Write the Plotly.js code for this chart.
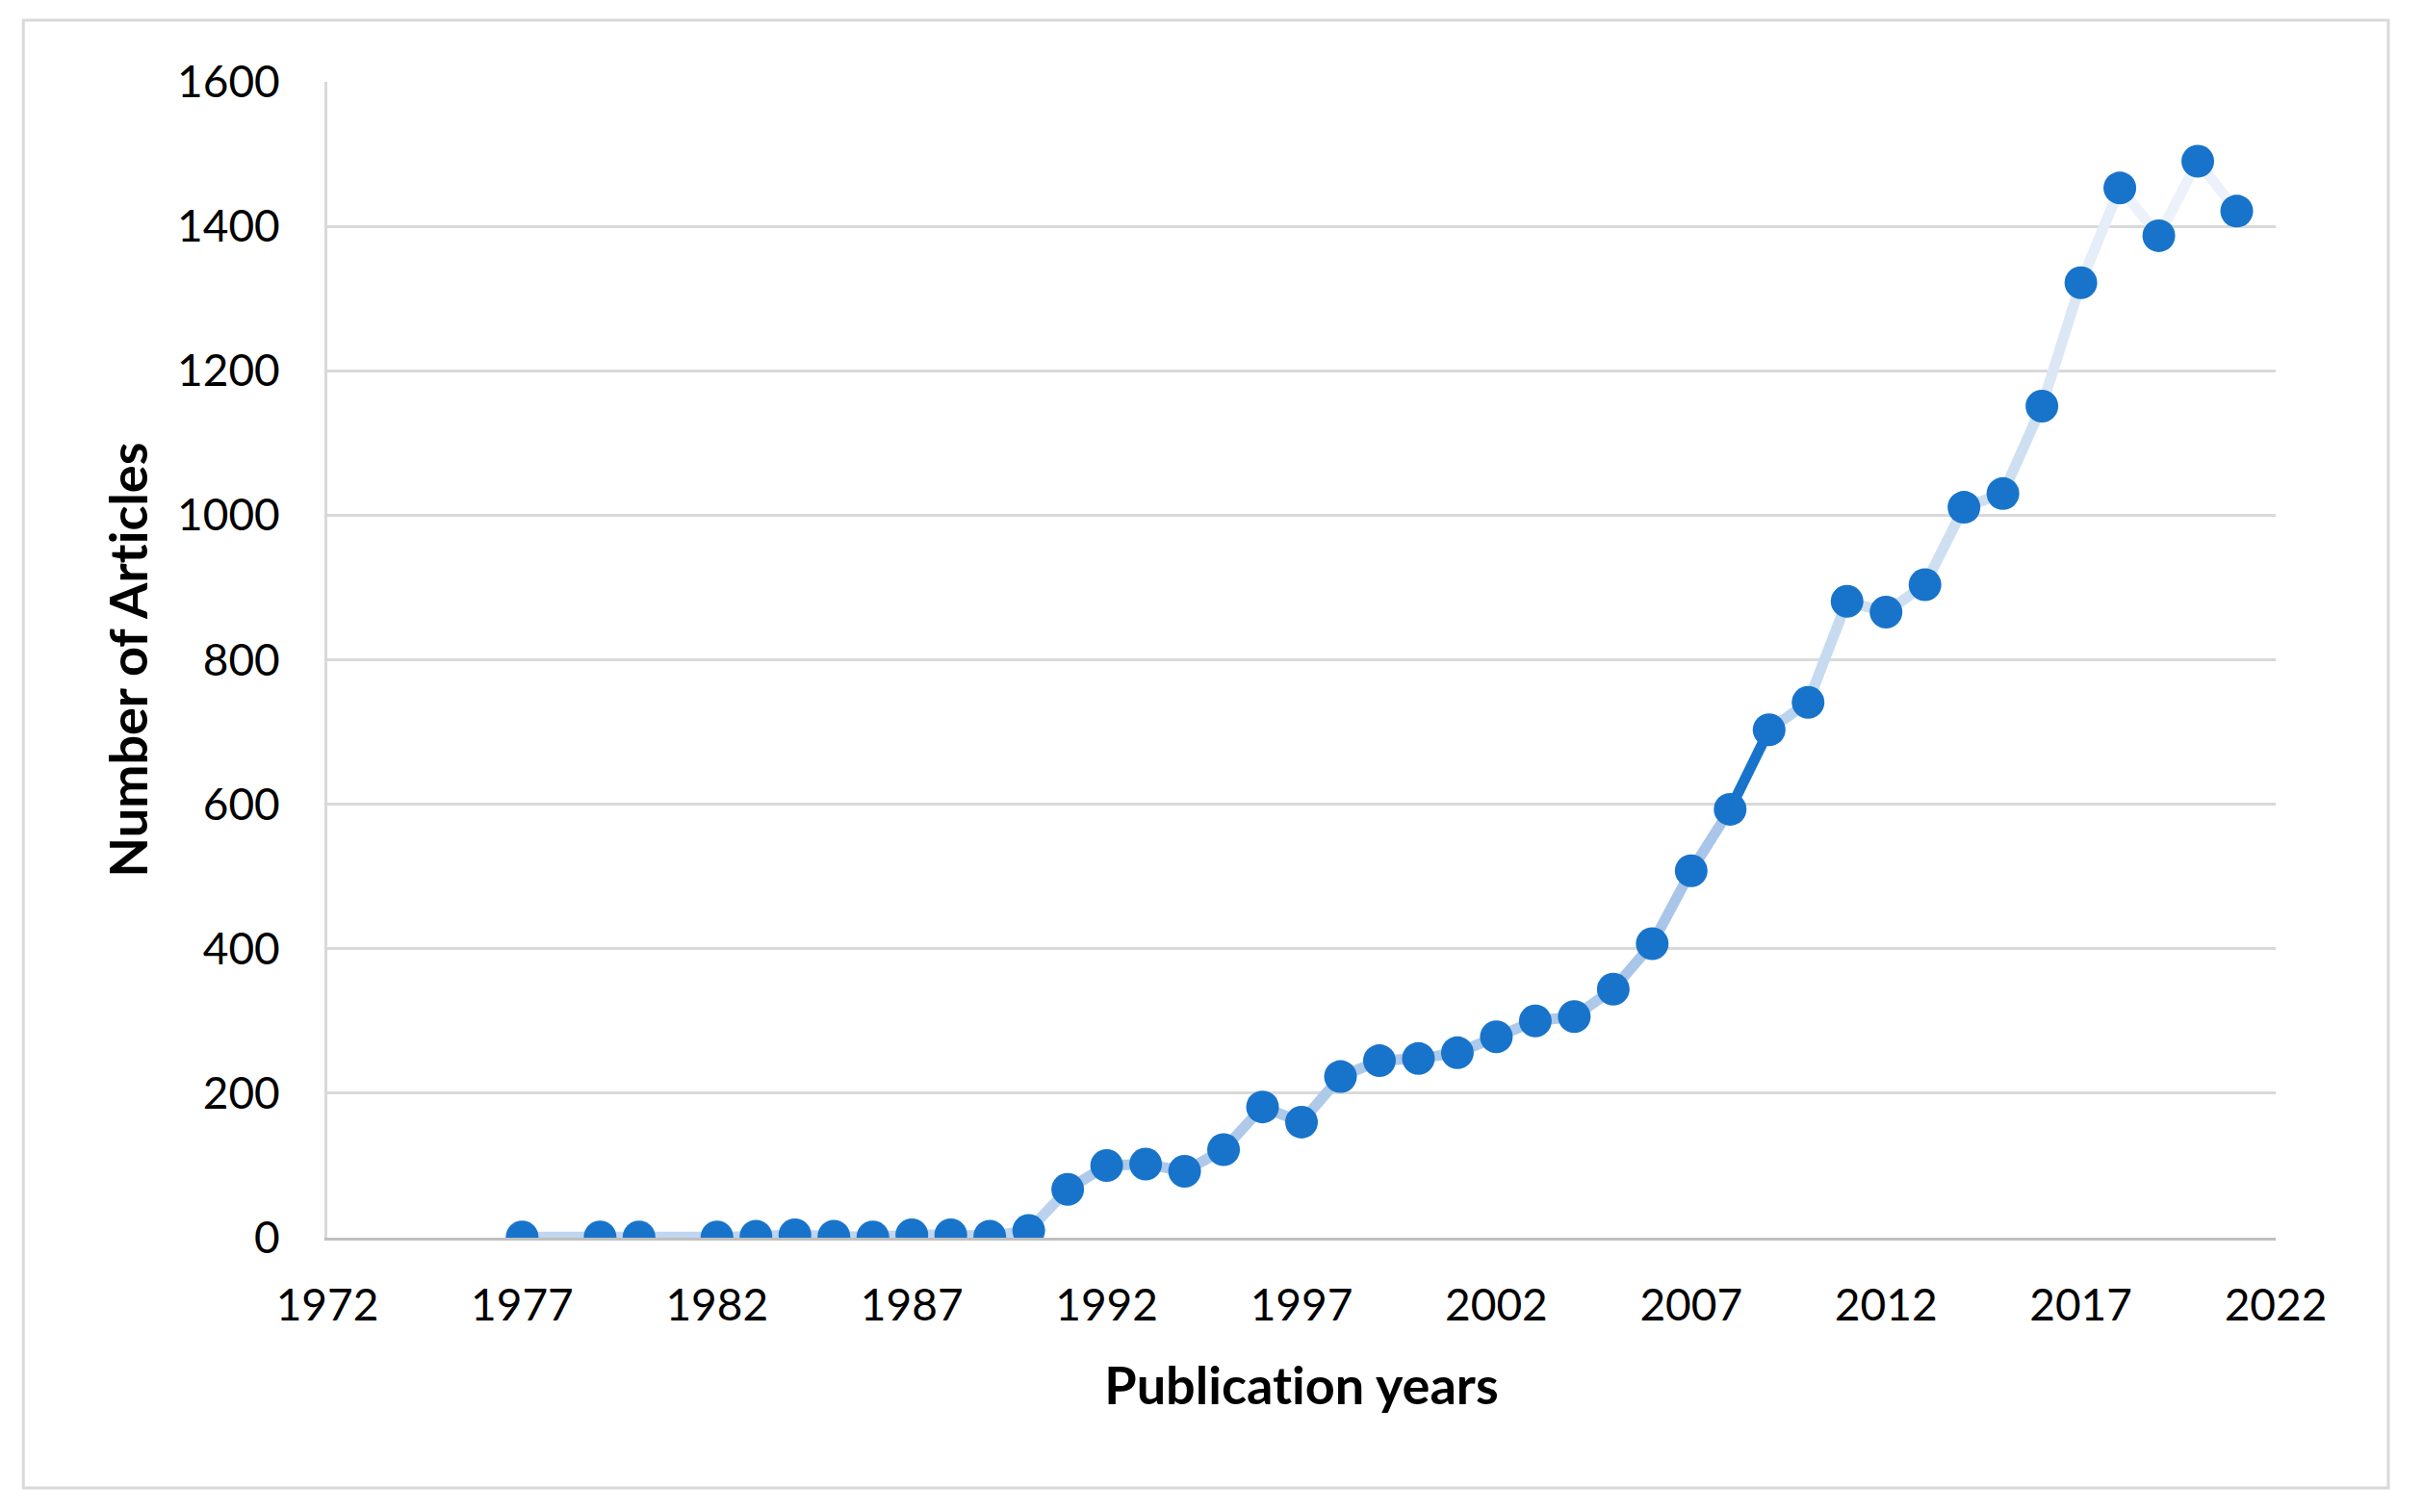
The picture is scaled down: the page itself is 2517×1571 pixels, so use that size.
<!DOCTYPE html>
<html>
<head>
<meta charset="utf-8">
<script src="https://cdn.plot.ly/plotly-3.0.1.min.js"></script>
<style>
  html, body { margin: 0; padding: 0; background: #ffffff; }
  #chart { width: 2517px; height: 1571px; }
  svg text { font-variant-ligatures: none; font-feature-settings: "liga" 0; }
</style>
</head>
<body>
<div id="chart"></div>
<script>
// ---- data ----
const years = [1977, 1979, 1980, 1982, 1983, 1984, 1985, 1986, 1987, 1988, 1989, 1990,
  1991, 1992, 1993, 1994, 1995, 1996, 1997, 1998, 1999, 2000, 2001, 2002, 2003, 2004,
  2005, 2006, 2007, 2008, 2009, 2010, 2011, 2012, 2013, 2014, 2015, 2016, 2017, 2018,
  2019, 2020, 2021];
const articles = [1, 1, 1, 1, 2, 4, 2, 1, 4, 4, 2, 10,
  67, 100, 102, 92, 122, 181, 160, 223, 245, 248, 256, 278, 300, 306,
  344, 407, 508, 593, 703, 741, 881, 866, 904, 1011, 1030, 1151, 1322, 1453,
  1387, 1490, 1421];
const xTickVals = [1972, 1977, 1982, 1987, 1992, 1997, 2002, 2007, 2012, 2017, 2022];
const yTickVals = [0, 200, 400, 600, 800, 1000, 1200, 1400, 1600];

// ---- style: colour of each connecting segment ----
const segColors = [];
for (let k = 0; k < years.length - 1; k++) {
  let c;
  if (k <= 10) c = '#C0D5EF';
  else if (k === 11) c = '#BBD2EE';
  else if (k <= 25) c = '#AEC9EA';
  else if (k <= 28) c = '#A9C5E9';
  else if (k === 29) c = '#1874CB';
  else if (k === 30) c = '#BCD3EE';
  else if (k === 31) c = '#C6DAF0';
  else if (k <= 36) c = '#CFDFF2';
  else if (k === 37) c = '#DCE7F5';
  else if (k === 38) c = '#E5EDF8';
  else c = '#EDF2FA';
  segColors.push(c);
}

const traces = [];
for (let k = 0; k < years.length - 1; k++) {
  traces.push({
    type: 'scatter', mode: 'lines',
    x: [years[k], years[k + 1]], y: [articles[k], articles[k + 1]],
    line: { color: segColors[k], width: 11 },
    hoverinfo: 'skip', showlegend: false
  });
}
traces.push({
  type: 'scatter', mode: 'markers',
  x: years, y: articles,
  marker: { color: '#1874CB', size: 34, line: { width: 0 } },
  showlegend: false
});

const fontFam = 'Lato, "Open Sans", sans-serif';

const layout = {
  width: 2517, height: 1571,
  paper_bgcolor: '#ffffff', plot_bgcolor: '#ffffff',
  margin: { l: 340, r: 153, t: 85, b: 285 },
  showlegend: false,
  font: { family: fontFam, color: '#000000', size: 46 },
  xaxis: {
    range: [1972, 2022],
    tickvals: xTickVals,
    ticktext: xTickVals.map(String),
    showgrid: false,
    zeroline: false,
    showline: true, linecolor: '#BFBFBF', linewidth: 3,
    ticks: '', ticklabelstandoff: 28,
    tickfont: { family: fontFam, size: 46, color: '#000000' },
    title: { text: 'Publication years', standoff: 40,
      font: { family: fontFam, size: 54, color: '#000000', weight: 'bold' } }
  },
  yaxis: {
    range: [0, 1600],
    tickvals: yTickVals,
    ticktext: yTickVals.map(String),
    showgrid: true, gridcolor: '#D9D9D9', gridwidth: 3,
    zeroline: false,
    showline: true, linecolor: '#D9D9D9', linewidth: 3,
    ticks: '', ticklabelstandoff: 37,
    tickfont: { family: fontFam, size: 46, color: '#000000' },
    title: { text: 'Number of Articles', standoff: 14,
      font: { family: fontFam, size: 54, color: '#000000', weight: 'bold' } }
  },
  shapes: [{
    type: 'rect', xref: 'paper', yref: 'paper',
    x0: -0.156, x1: 1.0578, y0: -0.2165, y1: 1.0533,
    line: { color: '#D9D9D9', width: 3 }, fillcolor: 'rgba(0,0,0,0)', layer: 'below'
  }]
};

Plotly.newPlot('chart', traces, layout, { displayModeBar: false, staticPlot: true });
</script>
</body>
</html>
